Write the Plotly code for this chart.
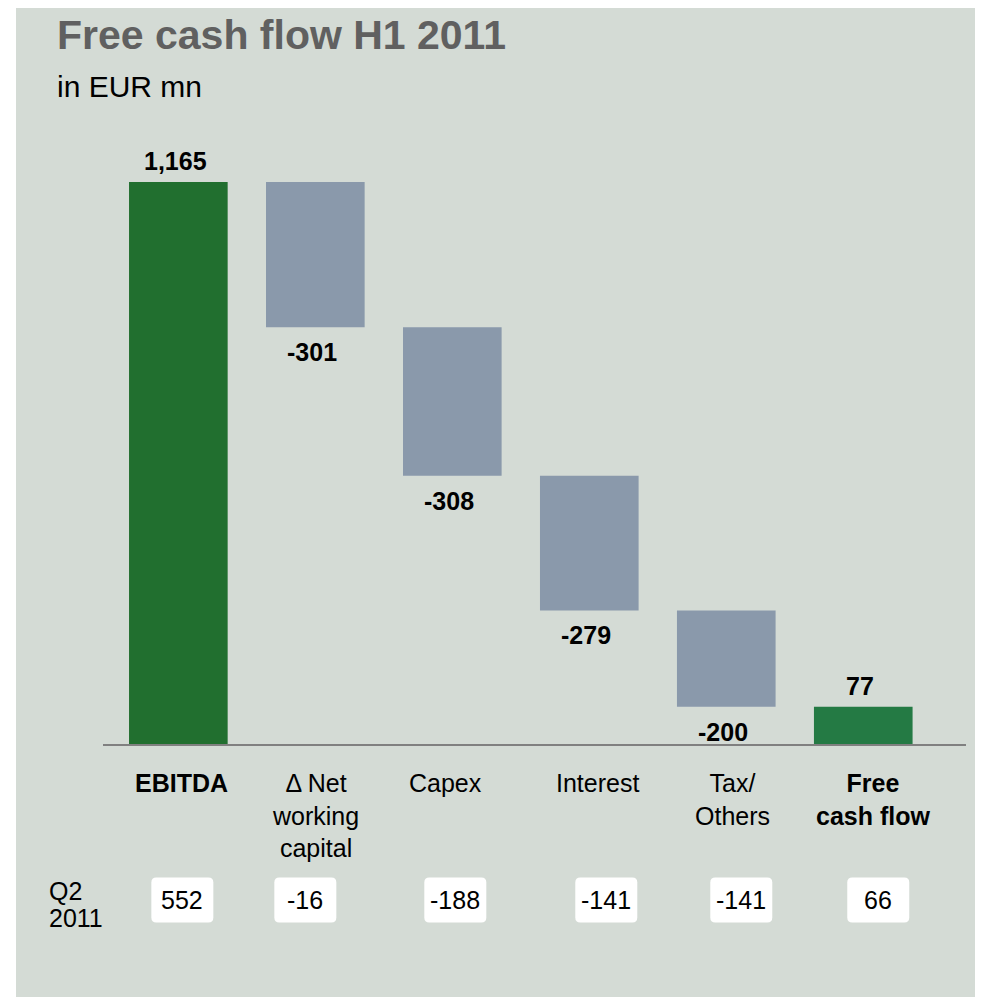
import plotly.graph_objs as go

# Data
categories = ["EBITDA", "Δ Net working capital", "Capex", "Interest", "Tax/ Others", "Free cash flow"]
tick_labels = ["<b>EBITDA</b>", "Δ Net<br>working<br>capital", "Capex", "Interest",
               "Tax/<br>Others", "<b>Free<br>cash flow</b>"]
changes = [1165, -301, -308, -279, -200, 77]
measures = ["total", "relative", "relative", "relative", "relative", "total"]
q2_2011 = ["552", "-16", "-188", "-141", "-141", "66"]

GREEN = "#216f2f"
GREEN_FCF = "#247a44"
GREY_BLUE = "#8a99ab"
BG = "#d4dbd5"
FONT = "Liberation Sans, Arial, sans-serif"

# small horizontal nudges (px) so labels and boxes sit like in the original slide
label_nudge = [3, 0, -7, 8, 6, 10]
box_nudge = [4, -10, 3, 17, 15, 15]

# the page body adds an 8px margin, so the figure is 8px smaller than the window
OFF = 8
W, H = 975, 989
L, R, T, B = 95, 17, 133, 253
CAT_PX = (W - L - R) / 6.3


def px(x):
    # screen x -> paper x
    return (x - OFF - L) / (W - L - R)


def py(y):
    # screen y -> paper y
    return (H - B - (y - OFF)) / (H - T - B)


# running totals for the floating bars
bases, running = [], 0
for m, v in zip(measures, changes):
    if m == "total":
        bases.append(0)
        running = v
    else:
        bases.append(running)
        running += v

colors = []
for i, m in enumerate(measures):
    if m == "total":
        colors.append(GREEN if i == 0 else GREEN_FCF)
    else:
        colors.append(GREY_BLUE)

x = list(range(len(categories)))

fig = go.Figure()
fig.add_trace(go.Bar(
    x=x, y=changes, base=bases, width=0.72,
    marker=dict(color=colors, line=dict(width=0)),
    hovertext=categories, hoverinfo="text+y",
    showlegend=False,
))

# value labels on bar ends
for i, (b, v) in enumerate(zip(bases, changes)):
    end = b + v
    if v >= 0:
        fig.add_annotation(x=i, y=end, text=f"<b>{v:,}</b>", showarrow=False,
                           yanchor="bottom", yshift=5, xshift=-3,
                           font=dict(size=25, color="black", family=FONT))
    else:
        fig.add_annotation(x=i, y=end, text=f"<b>{v:,}</b>", showarrow=False,
                           yanchor="top", yshift=-9, xshift=-3,
                           font=dict(size=25, color="black", family=FONT))

# category labels below the axis
for i, lab in enumerate(tick_labels):
    fig.add_annotation(x=i, y=py(767), xref="x", yref="paper", text=lab,
                       showarrow=False, yanchor="top", xshift=label_nudge[i],
                       font=dict(size=25, color="black", family=FONT))

# Q2 2011 boxes: rounded white rectangles with the value on top
box_w, box_h, rad = 62, 45, 5
hw, hh = box_w / 2, box_h / 2
box_path = (f"M {-hw + rad},{-hh} L {hw - rad},{-hh} Q {hw},{-hh} {hw},{-hh + rad} "
            f"L {hw},{hh - rad} Q {hw},{hh} {hw - rad},{hh} L {-hw + rad},{hh} "
            f"Q {-hw},{hh} {-hw},{hh - rad} L {-hw},{-hh + rad} Q {-hw},{-hh} {-hw + rad},{-hh} Z")
for i, val in enumerate(q2_2011):
    fig.add_shape(type="path", xref="x", yref="paper",
                  xsizemode="pixel", ysizemode="pixel",
                  xanchor=i + box_nudge[i] / CAT_PX, yanchor=py(900), path=box_path,
                  fillcolor="white", line=dict(width=0), layer="above")
    fig.add_annotation(x=i, y=py(900), xref="x", yref="paper", text=val,
                       showarrow=False, yanchor="middle", xshift=box_nudge[i],
                       font=dict(size=25, color="black", family=FONT))

fig.add_annotation(x=px(47), y=py(891), xref="paper", yref="paper", text="Q2",
                   showarrow=False, xanchor="left", yanchor="middle",
                   font=dict(size=25, color="black", family=FONT))
fig.add_annotation(x=px(47), y=py(918), xref="paper", yref="paper", text="2011",
                   showarrow=False, xanchor="left", yanchor="middle",
                   font=dict(size=25, color="black", family=FONT))

# title and unit
fig.add_annotation(x=px(55), y=py(35), xref="paper", yref="paper",
                   text="<b>Free cash flow H1 2011</b>", showarrow=False,
                   xanchor="left", yanchor="middle",
                   font=dict(size=41, color="#606060", family=FONT))
fig.add_annotation(x=px(55), y=py(86), xref="paper", yref="paper",
                   text="in EUR mn", showarrow=False,
                   xanchor="left", yanchor="middle",
                   font=dict(size=30, color="black", family=FONT))

# grey panel
fig.add_shape(type="rect", xref="paper", yref="paper", layer="below",
              x0=px(16), x1=px(W + 20), y0=py(H + 20), y1=py(0),
              fillcolor=BG, line=dict(width=0))

fig.update_layout(
    width=W, height=H,
    margin=dict(l=L, r=R, t=T, b=B),
    paper_bgcolor="white",
    plot_bgcolor="rgba(0,0,0,0)",
    xaxis=dict(range=[-0.55, 5.75], showticklabels=False, showgrid=False,
               zeroline=False, showline=True, linecolor="#808080", linewidth=2,
               fixedrange=True),
    yaxis=dict(range=[0, 1250], visible=False, fixedrange=True),
    bargap=0.28,
)

fig.write_html("out.html")
